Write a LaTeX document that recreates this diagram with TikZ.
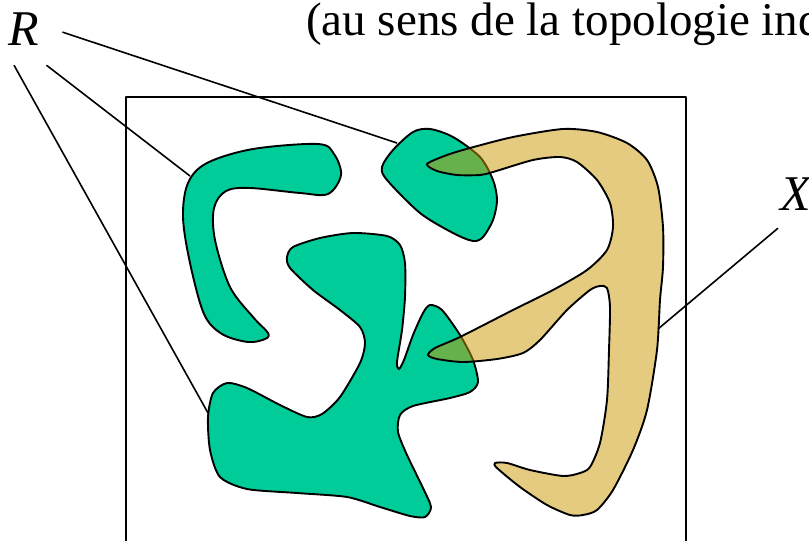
\documentclass[tikz,border=0pt]{standalone}
\usepackage{fontspec}
\setmainfont{Liberation Serif}
\usetikzlibrary{calc}
\definecolor{regiongreen}{RGB}{0,204,153}
\definecolor{setochre}{RGB}{204,152,0}

\begin{document}
\begin{tikzpicture}[x=1pt,y=-1pt,line join=round,
		region/.style={draw=black,line width=1.9pt,fill=regiongreen},
		setX/.style={draw=black,line width=1.9pt,fill=setochre,fill opacity=0.5},
		leader/.style={line width=1.6pt},
		lbl/.style={inner sep=0pt,anchor=base west,font=\fontsize{50}{60}\selectfont\itshape}]
		%%%%% START %%%%%
		\useasboundingbox (0,0) rectangle (809,541);
		
		\node[inner sep=0pt,anchor=base west,font=\fontsize{47}{56}\selectfont] (caption) at (306,35) {(au sens de la topologie induite)};
		\node[lbl] (labelR) at (8,45) {R};
		\node[lbl] (labelX) at (780,210) {X};
		
		\draw[line width=2pt] (126,97) rectangle (686,570);
		
		\coordinate (endA) at (190,176);
		\coordinate (endB) at (397,143);
		\coordinate (endC) at (208,413);
		\coordinate (endX) at (658,329);
		
		\draw[leader] ([shift={(23.5,3.5)}]labelR.east) -- (endB);
		\draw[leader] ([shift={(7.5,20)}]labelR.south east) -- (endA);
		\draw[leader] ([shift={(6,20)}]labelR.south west) -- (endC);
		\draw[leader] ([shift={(-2,18)}]labelX.south west) -- (endX);
		
		% hook
		\draw[region] plot[smooth cycle,tension=0.55] coordinates {
			(253,149) (318,144) (334,154) (341,175) (328,194) (300,193)
			(250,188) (226,191) (214,208) (215,240) (230,287) (253,317) (268,333)
			(265,339) (248,342) (222,334) (204,314) (190,263) (183,217)
			(188,183) (207,163)};
		
		% small blob
		\draw[region] plot[smooth cycle,tension=0.5] coordinates {
			(430,129) (453,137) (480,157) (493,180) (497,200) (493,220) (483,237)
			(473,241) (453,233) (420,213) (387,180) (382,167) (393,150) (413,132)};
		
		% big blob
		\draw[region] plot[smooth cycle,tension=0.45] coordinates {
			(320,238) (353,233) (387,236) (400,245) (405,263) (405,297) (402,330)
			(397,362) (399,369) (404,360) (413,335) (423,313) (430,305) (442,310)
			(460,335) (473,360) (478,382) (470,392) (450,398) (413,406) (400,415)
			(398,432) (407,455) (423,488) (431,507) (425,517) (410,516) (380,507)
			(347,497) (297,493) (247,489) (220,477) (210,450) (208,417) (213,393)
			(227,383) (247,388) (280,405) (307,417) (322,414) (340,397) (360,363)
			(365,343) (360,327) (340,310) (313,290) (290,268) (287,257) (293,247)};
		
		% set X
		\draw[setX] plot[smooth cycle,tension=0.45] coordinates {
			(427,164) (447,155) (470,148) (513,137) (563,129) (597,132) (627,143)
			(647,160) (658,187) (663,227) (663,267) (660,300) (657,350) (647,410)
			(633,450) (613,490) (597,510) (583,515) (570,515) (547,505) (520,487)
			(497,468) (495,463) (507,463) (530,470) (563,476) (580,473) (590,467)
			(600,443) (607,400) (609,350) (610,307) (607,288) (600,286) (590,290)
			(567,310) (540,340) (523,353) (497,359) (463,362) (437,359) (428,355)
			(435,348) (460,337) (513,310) (553,290) (587,270) (607,250) (613,227)
			(610,203) (597,180) (577,162) (560,157) (533,160) (493,172) (480,175)
			(457,175) (437,171)};
		%%%%% END %%%%%
	\end{tikzpicture}
\end{document}
